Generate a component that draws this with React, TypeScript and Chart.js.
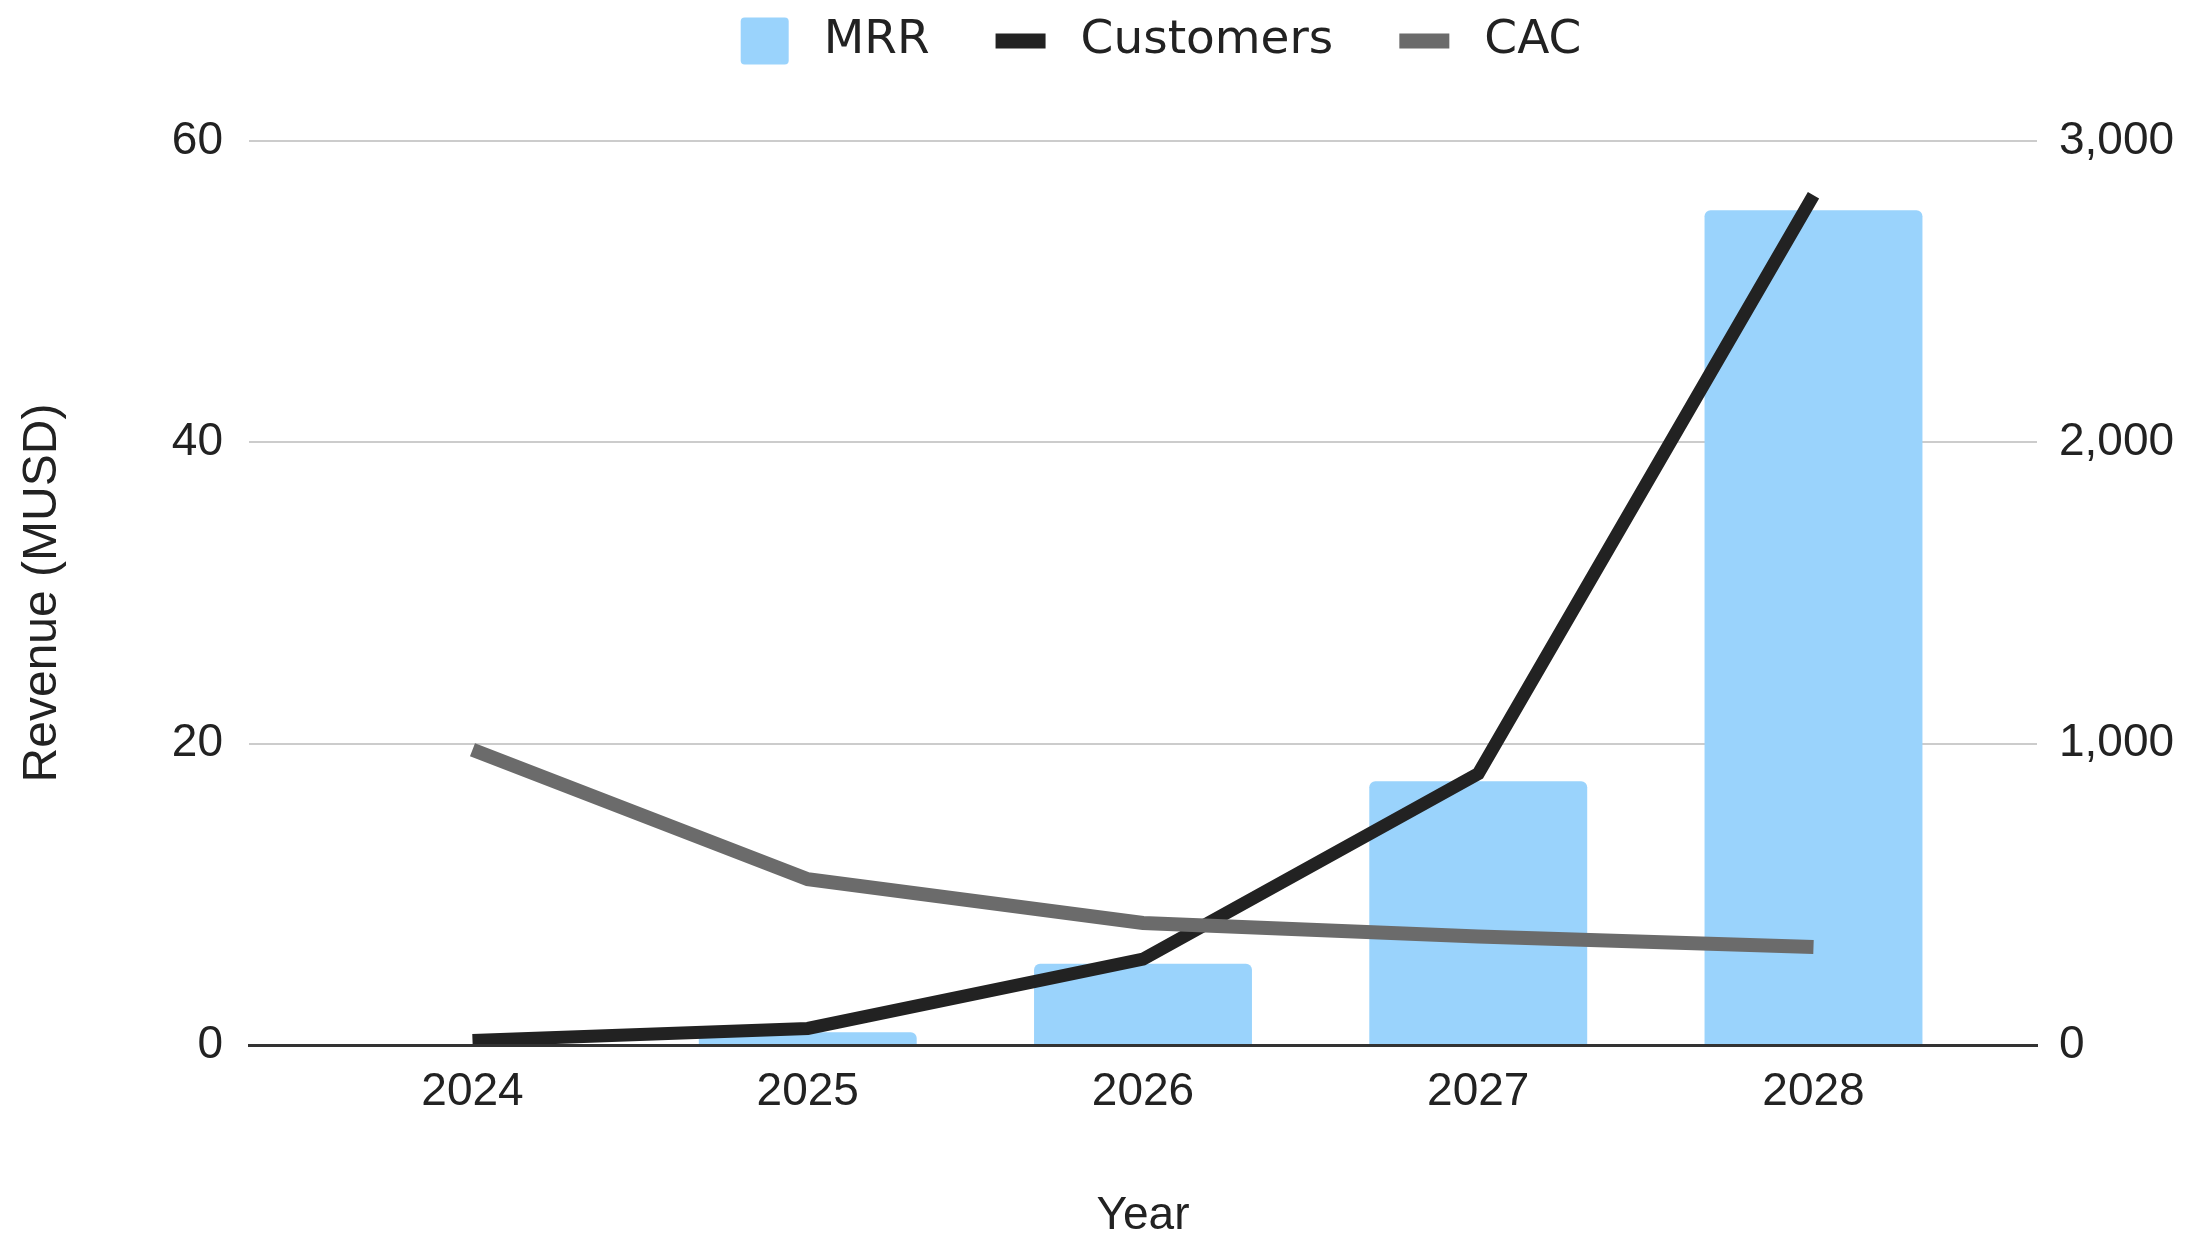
import React, { useEffect, useRef } from 'react';
import { Chart, registerables } from 'chart.js';

Chart.register(...registerables);

const years = [2024, 2025, 2026, 2027, 2028];
const mrr = [0, 0.85, 5.4, 17.5, 55.4];
const customers = [15, 55, 285, 900, 2820];
const cac = [980, 550, 405, 360, 325];
const leftTicks = [0, 20, 40, 60];
const rightTicks = [0, 1000, 2000, 3000];
const seriesNames = ['MRR', 'Customers', 'CAC'];
const xTitle = 'Year';
const yTitle = 'Revenue (MUSD)';

const BLUE = '#9ad3fc';
const DARK = '#222222';
const GRAY = '#6b6b6b';
const TEXT = '#222222';
const AXIS_FONT = { family: '"Liberation Sans", Arial, sans-serif', size: 46 };
const TITLE_FONT = { family: '"Liberation Sans", Arial, sans-serif', size: 48 };

const legendPlugin = {
  id: 'customLegend',
  afterDraw(chart: any) {
    const ctx = chart.ctx as CanvasRenderingContext2D;
    const area = chart.chartArea;
    ctx.save();
    ctx.font = '47px "DejaVu Sans", sans-serif';
    const items = chart.data.datasets.map((ds: any) => ({
      text: ds.label as string,
      color: (ds.type === 'bar' ? ds.backgroundColor : ds.borderColor) as string,
      isBar: ds.type === 'bar',
    }));
    const markerGap = 35;
    const itemGap = 66;
    const widths = items.map((it: any) => (it.isBar ? 48 : 50) + markerGap + ctx.measureText(it.text).width);
    const total = widths.reduce((a: number, b: number) => a + b, 0) + itemGap * (items.length - 1);
    let x = (area.left + area.right) / 2 + 18 - total / 2;
    const cy = 41;
    items.forEach((it: any) => {
      ctx.fillStyle = it.color;
      if (it.isBar) {
        ctx.beginPath();
        (ctx as any).roundRect(x, cy - 23.5, 48, 47, 4);
        ctx.fill();
        x += 48;
      } else {
        ctx.fillRect(x, cy - 7.5, 50, 15);
        x += 50;
      }
      x += markerGap;
      ctx.fillStyle = TEXT;
      ctx.textAlign = 'left';
      ctx.textBaseline = 'middle';
      ctx.fillText(it.text, x, cy);
      x += ctx.measureText(it.text).width + itemGap;
    });
    ctx.restore();
  },
};

export default function App() {
  const ref = useRef<HTMLCanvasElement | null>(null);

  useEffect(() => {
    if (!ref.current) return;
    const pts = (vals: number[]) => years.map((x, i) => ({ x, y: vals[i] }));
    const chart = new Chart(ref.current, {
      type: 'bar',
      data: {
        datasets: [
          {
            type: 'bar',
            label: seriesNames[0],
            data: pts(mrr),
            backgroundColor: BLUE,
            borderRadius: 6,
            borderSkipped: 'start',
            barPercentage: 0.65,
            categoryPercentage: 1,
            yAxisID: 'y',
            order: 3,
          },
          {
            type: 'line',
            label: seriesNames[1],
            data: pts(customers),
            borderColor: DARK,
            backgroundColor: DARK,
            borderWidth: 13,
            pointRadius: 0,
            tension: 0,
            borderCapStyle: 'butt',
            borderJoinStyle: 'miter',
            yAxisID: 'y1',
            order: 2,
          },
          {
            type: 'line',
            label: seriesNames[2],
            data: pts(cac),
            borderColor: GRAY,
            backgroundColor: GRAY,
            borderWidth: 14,
            pointRadius: 0,
            tension: 0,
            borderCapStyle: 'butt',
            borderJoinStyle: 'miter',
            yAxisID: 'y1',
            order: 1,
          },
        ] as any,
      },
      options: {
        responsive: false,
        animation: false,
        devicePixelRatio: 1,
        layout: { padding: { top: 141, left: 0, right: 0, bottom: 0 } },
        plugins: { legend: { display: false }, tooltip: { enabled: false } },
        scales: {
          x: {
            type: 'linear',
            offset: false,
            min: years[0] - 2 / 3,
            max: years[years.length - 1] + 2 / 3,
            ticks: {
              stepSize: 1,
              includeBounds: false,
              autoSkip: false,
              maxRotation: 0,
              padding: 20,
              font: AXIS_FONT,
              color: TEXT,
              callback: (v: any) => String(v),
            },
            grid: { display: false, drawTicks: false },
            border: { display: true, color: '#333333', width: 3, z: 1 },
            title: { display: true, text: xTitle, font: AXIS_FONT, color: TEXT, padding: { top: 0, bottom: -7 } },
            afterFit: (s: any) => {
              s.height = 192;
            },
          },
          y: {
            type: 'linear',
            position: 'left',
            min: leftTicks[0],
            max: leftTicks[leftTicks.length - 1],
            ticks: { stepSize: leftTicks[1] - leftTicks[0], padding: 26, font: AXIS_FONT, color: TEXT },
            grid: { color: '#cccccc', lineWidth: 2, drawTicks: false },
            border: { display: false },
            title: { display: true, text: yTitle, font: TITLE_FONT, color: TEXT, padding: { top: 14, bottom: 0 } },
            afterFit: (s: any) => {
              s.width = 249;
            },
          },
          y1: {
            type: 'linear',
            position: 'right',
            min: rightTicks[0],
            max: rightTicks[rightTicks.length - 1],
            ticks: {
              stepSize: rightTicks[1] - rightTicks[0],
              padding: 22,
              font: AXIS_FONT,
              color: TEXT,
              callback: (v: any) => Number(v).toLocaleString('en-US'),
            },
            grid: { display: false, drawTicks: false },
            border: { display: false },
            afterFit: (s: any) => {
              s.width = 153;
            },
          },
        },
      } as any,
      plugins: [legendPlugin],
    });
    return () => chart.destroy();
  }, []);

  return (
    <div style={{ position: 'fixed', left: 0, top: 0, width: 2190, height: 1237, background: '#fff' }}>
      <canvas ref={ref} width={2190} height={1237} style={{ display: 'block' }} />
    </div>
  );
}
